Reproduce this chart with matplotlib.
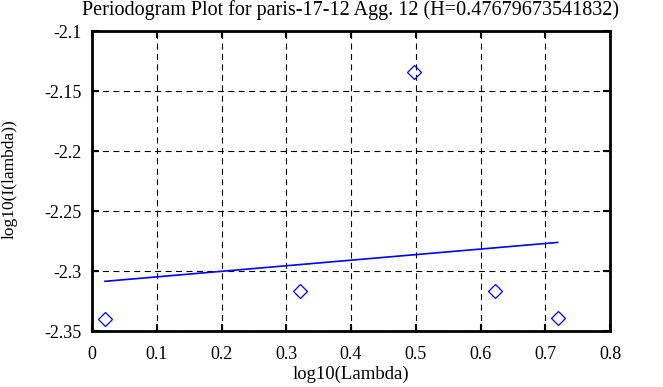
import matplotlib
matplotlib.use("Agg")
import matplotlib.pyplot as plt

# data
log_lambda = [0.020, 0.321, 0.497, 0.622, 0.719]
log_I = [-2.340, -2.317, -2.134, -2.317, -2.339]
fit_x = [0.020, 0.719]
fit_y = [-2.3086, -2.2762]
x_ticks = [0, 0.1, 0.2, 0.3, 0.4, 0.5, 0.6, 0.7, 0.8]
x_tick_labels = ['0', '0.1', '0.2', '0.3', '0.4', '0.5', '0.6', '0.7', '0.8']
y_ticks = [-2.35, -2.3, -2.25, -2.2, -2.15, -2.1]
y_tick_labels = ['-2.35', '-2.3', '-2.25', '-2.2', '-2.15', '-2.1']
title = "Periodogram Plot for paris-17-12 Agg. 12 (H=0.47679673541832)"

plt.rcParams['font.family'] = ['Liberation Serif', 'DejaVu Serif']

fig = plt.figure(figsize=(6.63, 3.87), dpi=100)
ax = fig.add_axes([92/663, 1-331/387, (610-92)/663, (331-31)/387])

ax.plot(log_lambda, log_I, linestyle='none', marker='D', markersize=7.5,
        markerfacecolor='none', markeredgecolor='#0000ff', markeredgewidth=0.9)
ax.plot(fit_x, fit_y, color='#0000ff', linewidth=1.2)

ax.set_xlim(0, 0.8)
ax.set_ylim(-2.35, -2.1)
ax.set_xticks(x_ticks)
ax.set_xticklabels(x_tick_labels)
ax.set_yticks(y_ticks)
ax.set_yticklabels(y_tick_labels)
ax.grid(True, color='black', linestyle=(0, (5.4, 4)), linewidth=0.8)
ax.tick_params(direction='in', length=5, width=1.5, top=True, right=True,
               labelsize=13, colors='black')
ax.tick_params(axis='x', pad=11)
ax.tick_params(axis='y', pad=7.2)
for s in ax.spines.values():
    s.set_linewidth(2)

ax.set_xlabel('log10(Lambda)', fontsize=13.5)
ax.xaxis.set_label_coords(0.5, -0.115)
ax.set_ylabel('log10(I(lambda))', fontsize=12.5)
ax.yaxis.set_label_coords(-0.143, 0.507)
ax.set_title(title, fontsize=14.5, pad=11.5)

fig.savefig('out.png', dpi=100)
